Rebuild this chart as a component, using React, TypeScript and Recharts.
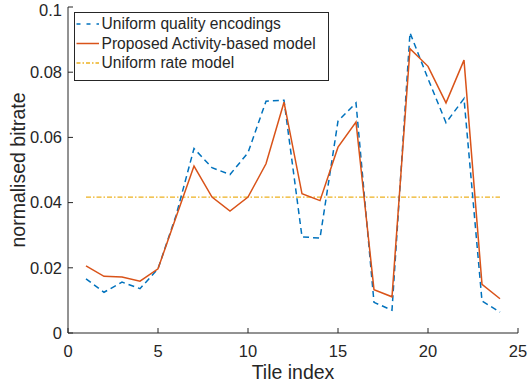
import { LineChart, Line, XAxis, YAxis, Label } from "recharts";

const tiles = [1, 2, 3, 4, 5, 6, 7, 8, 9, 10, 11, 12, 13, 14, 15, 16, 17, 18, 19, 20, 21, 22, 23, 24];
const uniformQuality = [0.0166, 0.0125, 0.0156, 0.0136, 0.0197, 0.036, 0.0566, 0.0507, 0.0486, 0.0553, 0.0711, 0.0714, 0.0295, 0.0291, 0.065, 0.0706, 0.0094, 0.007, 0.0921, 0.078, 0.0645, 0.0719, 0.0098, 0.0064];
const activityModel = [0.0206, 0.0174, 0.0172, 0.0159, 0.0197, 0.0355, 0.0512, 0.0417, 0.0374, 0.0417, 0.0519, 0.0708, 0.0427, 0.0406, 0.057, 0.0647, 0.0133, 0.0111, 0.0872, 0.0818, 0.0706, 0.0837, 0.0149, 0.0105];
const uniformRate = 0.0417;

const xTicks = [0, 5, 10, 15, 20, 25];
const yTicks = [0, 0.02, 0.04, 0.06, 0.08, 0.1];

const seriesNames = ["Uniform quality encodings", "Proposed Activity-based model", "Uniform rate model"];

const BLUE = "#0072BD";
const RED = "#D95319";
const ORANGE = "#EDB120";
const INK = "#262626";
const FONT = "'Liberation Sans', Arial, Helvetica, sans-serif";

const data = tiles.map((t, i) => ({
  tile: t,
  quality: uniformQuality[i],
  activity: activityModel[i],
  rate: uniformRate,
}));

function YTitle() {
  return (
    <text
      x={25}
      y={170}
      transform="rotate(-90 25 170)"
      textAnchor="middle"
      fontSize={19.5}
      fill={INK}
      fontFamily={FONT}
    >
      normalised bitrate
    </text>
  );
}

function ChartLegend() {
  const rows = [
    { name: seriesNames[0], color: BLUE, dash: "4 6" },
    { name: seriesNames[1], color: RED, dash: undefined },
    { name: seriesNames[2], color: ORANGE, dash: "4 2 1.5 2" },
  ];
  return (
    <svg
      width={256}
      height={70}
      style={{ position: "absolute", left: 74, top: 12 }}
    >
      <rect x={0.5} y={0.5} width={254} height={68} fill="#fff" stroke={INK} strokeWidth={1} />
      {rows.map((r, i) => (
        <g key={r.name}>
          <line
            x1={2.5}
            x2={25}
            y1={12 + i * 19.5}
            y2={12 + i * 19.5}
            stroke={r.color}
            strokeWidth={1.5}
            strokeDasharray={r.dash}
          />
          <text x={27.5} y={17.3 + i * 19.5} fontSize={15.6} fill={INK} fontFamily={FONT}>
            {r.name}
          </text>
        </g>
      ))}
    </svg>
  );
}

export default function App() {
  const tickStyle = { fontSize: 16.5, fill: INK, fontFamily: FONT };
  return (
    <div style={{ position: "relative", width: 528, height: 387 }}>
      <style>{"body{margin:0}"}</style>
      <LineChart width={528} height={387} data={data} margin={{ top: 7, right: 10, bottom: 0, left: 0 }}>
        <XAxis
          dataKey="tile"
          type="number"
          domain={[0, 25]}
          ticks={xTicks}
          height={54}
          tickSize={-5}
          tickMargin={17}
          tick={tickStyle}
          stroke={INK}
          axisLine={{ stroke: INK }}
          tickLine={{ stroke: INK }}
        >
          <Label value="Tile index" position="insideBottom" offset={8} fontSize={19.5} fill={INK} fontFamily={FONT} />
        </XAxis>
        <XAxis
          xAxisId="top"
          orientation="top"
          dataKey="tile"
          type="number"
          domain={[0, 25]}
          ticks={xTicks}
          height={0}
          tickSize={-5}
          tick={false}
          axisLine={{ stroke: INK }}
          tickLine={{ stroke: INK }}
        />
        <YAxis
          type="number"
          domain={[0, 0.1]}
          ticks={yTicks}
          width={68}
          tickSize={-5}
          tickMargin={11}
          tick={tickStyle}
          tickFormatter={(v) => String(v)}
          axisLine={{ stroke: INK }}
          tickLine={{ stroke: INK }}
        >
          <Label content={() => <YTitle />} />
        </YAxis>
        <YAxis
          yAxisId="right"
          orientation="right"
          type="number"
          domain={[0, 0.1]}
          ticks={yTicks}
          width={0}
          tickSize={-5}
          tick={false}
          axisLine={{ stroke: INK }}
          tickLine={{ stroke: INK }}
        />
        <Line
          dataKey="rate"
          stroke={ORANGE}
          strokeWidth={1.3}
          strokeDasharray="5 2 1.5 2"
          dot={false}
          isAnimationActive={false}
        />
        <Line
          dataKey="quality"
          stroke={BLUE}
          strokeWidth={1.5}
          strokeDasharray="6 4"
          dot={false}
          isAnimationActive={false}
        />
        <Line
          dataKey="activity"
          stroke={RED}
          strokeWidth={1.5}
          dot={false}
          isAnimationActive={false}
        />
      </LineChart>
      <ChartLegend />
    </div>
  );
}
